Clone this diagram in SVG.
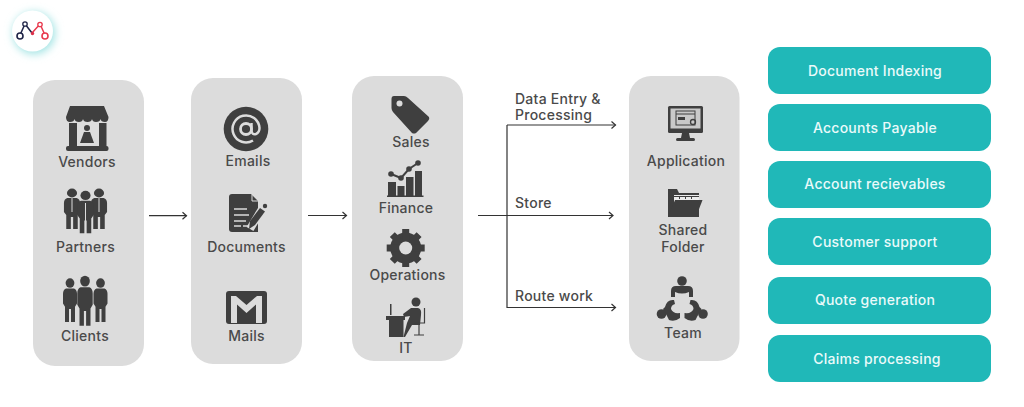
<svg xmlns="http://www.w3.org/2000/svg" width="1024" height="407" viewBox="0 0 1024 407">
<style>
text{font-family:"Inter","Liberation Sans",sans-serif;font-size:14px;font-weight:450;fill:#4a4a4a;text-anchor:middle;letter-spacing:.25px}
.l{text-anchor:start}
.w{fill:#eafafa}
.p{fill:#dcdcdc}
.t{fill:#20b8b8}
.i{fill:#3f3f3f}
.c{fill:#dcdcdc}
.s{fill:none;stroke:#3f3f3f}
.a{fill:none;stroke:#333;stroke-width:1.2}
</style>
<defs>
<marker id="h" markerWidth="8" markerHeight="10" refX="6" refY="5" orient="auto" markerUnits="userSpaceOnUse"><path d="M2 1.5L6 5L2 8.5" fill="none" stroke="#333" stroke-width="1.2"/></marker>
<filter id="g" x="-50%" y="-50%" width="200%" height="200%"><feGaussianBlur stdDeviation="4"/></filter>
<g id="man"><circle cx="0" cy="-12" r="4.4"/><path d="M-4 -7H4Q7 -6 7 -2V7L5 10V24H1V12H-1V24H-5V10L-7 7V-2Q-7 -6 -4 -7Z"/></g>
</defs>

<g id="logo">
<circle cx="34" cy="33" r="21" fill="#9fe3e3" filter="url(#g)"/>
<circle cx="32.500" cy="31" r="20.500" fill="#fff"/>
<path d="M20 35L25 24L32 33" fill="none" stroke="#1f2447" stroke-width="1.500"/>
<path d="M32 33L40 24L45 35" fill="none" stroke="#e8394d" stroke-width="1.500"/>
<circle cx="20" cy="36" r="3" fill="#fff" stroke="#1f2447" stroke-width="1.600"/>
<circle cx="25" cy="24" r="2.200" fill="#fff" stroke="#1f2447" stroke-width="1.300"/>
<circle cx="32.500" cy="33.500" r="1.700" fill="#d92f4a"/>
<circle cx="40" cy="24.500" r="2.200" fill="#fff" stroke="#e8394d" stroke-width="1.300"/>
<circle cx="45" cy="36" r="3" fill="#fff" stroke="#e8394d" stroke-width="1.600"/>
</g>

<g id="stakeholders">
<rect class="p" x="33" y="80" width="111" height="286" rx="22"/>
<g id="vendors">
<path class="i" d="M70 106H104L108.500 117Q108.500 122 105 122Q101 122 100.500 119Q100 122 96 122Q92.500 122 92 119Q91.500 122 87.500 122Q83.500 122 83 119Q82.500 122 79 122Q75 122 74.500 119Q74 122 70 122Q66 122 66 117Z"/>
<rect class="i" x="69" y="123" width="8" height="23"/><rect class="i" x="99" y="123" width="7.500" height="23"/>
<rect class="i" x="66" y="146" width="42.500" height="5" rx="2"/>
<circle class="i" cx="87" cy="128" r="3"/><path class="i" d="M84 132H90L94 143H80Z"/>
<text x="87" y="167">Vendors</text></g>
<g id="partners">
<g class="i"><use href="#man" transform="translate(72 205) scale(1.150 1)"/><use href="#man" transform="translate(99 205) scale(1.150 1)"/></g>
<use class="i" href="#man" transform="translate(85.500 208) scale(1.150 1.050)"/>
<path d="M85.500 203V222M72 198L72 212M99 198V212" stroke="#dcdcdc" stroke-width="1" fill="none"/>
<text x="85.500" y="252">Partners</text></g>
<g id="clients">
<use class="i" href="#man" transform="translate(70 296) scale(1,1.080)"/>
<use class="i" href="#man" transform="translate(100.500 296) scale(1,1.080)"/>
<use class="i" href="#man" transform="translate(85 296) scale(1.100,1.240)"/>
<text x="85" y="341">Clients</text></g>
</g>

<g id="channels">
<rect class="p" x="191" y="78" width="111" height="286" rx="22"/>
<g id="emails">
<circle class="i" cx="246" cy="129" r="22.300"/>
<circle cx="246" cy="129" r="5.500" fill="none" stroke="#dcdcdc" stroke-width="2.800"/>
<path d="M251.500 123V131Q252 135 256 134Q259.500 132.500 259.500 128A13.500 13.500 0 1 0 253 140.500" fill="none" stroke="#dcdcdc" stroke-width="2.500"/>
<text x="248" y="166">Emails</text></g>
<g id="documents">
<path class="i" d="M232 194H251L258 201V232H232Q229 232 229 229V197Q229 194 232 194Z"/>
<path d="M252 194.500V201H258" fill="none" stroke="#dcdcdc" stroke-width="1"/>
<path d="M234 209H247M234 215H249M234 221H246M234 226H241M243 226H251" stroke="#dcdcdc" stroke-width="1.500"/>
<path d="M250 229L262 209" stroke="#dcdcdc" stroke-width="8"/>
<path class="i" d="M249 229L250 221L260 208L265 211.500L255 225Z"/>
<circle class="i" cx="265" cy="206" r="2.200"/>
<text x="246.500" y="252">Documents</text></g>
<g id="mails">
<rect class="i" x="226" y="291" width="41" height="33" rx="3"/>
<path d="M231 323V296H236L246.500 305L257 296H262V323H256V304.500L246.500 313L237 304.500V323Z" fill="#dcdcdc"/>
<text x="246.500" y="341">Mails</text></g>
</g>

<g id="departments">
<rect class="p" x="352" y="76" width="111" height="285" rx="22"/>
<g id="sales">
<path class="i" d="M394 96H404Q406 96 408 98L429 117Q430 119 428 121L416 133Q414 134 412 133L393 112Q391.500 110 391.500 108V99Q391.500 96 394 96Z"/>
<circle class="c" cx="399.500" cy="103.500" r="3"/>
<text x="411" y="147">Sales</text></g>
<g id="finance">
<rect class="i" x="388" y="182" width="8" height="14"/><rect class="i" x="397.500" y="186" width="7" height="10"/><rect class="i" x="406" y="177" width="7.500" height="19"/><rect class="i" x="415" y="171" width="7" height="25"/>
<rect class="i" x="387" y="195.500" width="36.500" height="1.500"/>
<path class="s" stroke-width="2" d="M391 174L401 178L409 169L418 163"/>
<circle class="i" cx="391" cy="174" r="2.800"/><circle class="i" cx="401" cy="178" r="2.800"/><circle class="i" cx="409" cy="169" r="2.800"/><circle class="i" cx="418" cy="163" r="2.800"/>
<text x="406" y="213">Finance</text></g>
<g id="operations">
<circle cx="405.700" cy="248" r="11" fill="none" stroke="#3f3f3f" stroke-width="9"/>
<path d="M405.700 229V267M386.700 248H424.700M392.300 234.600L419.100 261.400M419.100 234.600L392.300 261.400" stroke="#3f3f3f" stroke-width="7"/>
<circle class="c" cx="405.700" cy="248" r="6.500"/>
<text x="407.500" y="280">Operations</text></g>
<g id="it">
<path class="i" d="M386 316H405V320H403.500V337H389V320H386Z"/>
<rect class="i" x="390" y="304" width="1.500" height="11"/>
<circle class="i" cx="416" cy="302" r="4.500"/>
<path class="i" d="M403 314L411 308H418Q422 309 421 315L420 325H412L405 337H403.500L407 323L410 316L404 317Z"/>
<path class="s" stroke-width="1.200" d="M424.500 308V323H414M419 323V335M414 335H424"/>
<text x="406" y="353">IT</text></g>
</g>

<g id="destinations">
<rect class="p" x="629" y="76" width="110.500" height="285" rx="22"/>
<g id="application">
<rect class="i" x="668" y="106" width="35" height="27" rx="1.500"/>
<rect x="670.500" y="108.500" width="30" height="20" fill="#c9c9c9"/>
<rect x="676" y="111" width="19" height="14" fill="none" stroke="#3f3f3f"/>
<path d="M676 114H695" stroke="#3f3f3f"/>
<rect class="i" x="678" y="117" width="7" height="3"/>
<circle cx="693" cy="122" r="2.500" fill="none" stroke="#3f3f3f" stroke-width="1.300"/>
<path class="i" d="M682 133H689L690 138H681Z"/>
<rect class="i" x="676" y="138" width="19" height="3" rx="1.500"/>
<text x="686" y="166">Application</text></g>
<g id="shared-folder">
<path class="i" d="M668 189H677L679 193H699V217H668Z"/>
<path d="M674 195H699V203H674Z" fill="#ececec"/>
<path class="i" d="M674 196H699V197H674ZM679 197H680V199H679ZM685 197H686V199H685ZM691 197H692V199H691Z"/>
<path class="i" d="M675 200H702.500L696 217H668Z"/>
<text x="683" y="235">Shared</text>
<text x="683" y="251.500">Folder</text></g>
<g id="team">
<circle class="i" cx="682" cy="281" r="4.800"/>
<path class="i" d="M671 297V291Q671 286 676 286H688Q693 286 693 291V297H689V292Q682 295 675 292V297Z"/>
<circle class="i" cx="661.500" cy="314" r="4.800"/><circle class="i" cx="703" cy="314" r="4.800"/>
<path class="i" d="M665 307Q667 299 674 300L675 304Q671 305 671 309Q673 314 680 313L680 318Q675 322 669 320L667 316L663 309Z"/>
<path class="i" d="M699.500 307Q697.500 299 690.500 300L689.500 304Q693.500 305 693.500 309Q691.500 314 684.500 313L684.500 318Q689.500 322 695.500 320L697.500 316L701.500 309Z"/>
<text x="683" y="338">Team</text></g>
</g>

<g id="functions">
<g id="document-indexing"><rect class="t" x="768" y="47" width="223" height="47" rx="12"/><text class="w" x="875" y="76">Document Indexing</text></g>
<g id="accounts-payable"><rect class="t" x="768" y="104" width="223" height="47" rx="12"/><text class="w" x="875" y="132.500">Accounts Payable</text></g>
<g id="account-recievables"><rect class="t" x="768" y="161" width="223" height="47" rx="12"/><text class="w" x="875" y="189">Account recievables</text></g>
<g id="customer-support"><rect class="t" x="768" y="218" width="223" height="47" rx="12"/><text class="w" x="875" y="246.500">Customer support</text></g>
<g id="quote-generation"><rect class="t" x="768" y="277" width="223" height="47" rx="12"/><text class="w" x="875" y="305">Quote generation</text></g>
<g id="claims-processing"><rect class="t" x="768" y="335" width="223" height="47" rx="12"/><text class="w" x="877" y="364">Claims processing</text></g>
</g>

<g id="connectors">
<path class="a" marker-end="url(#h)" d="M149 215.700H186.500"/>
<path class="a" marker-end="url(#h)" d="M308 215.500H346.500"/>
<path class="a" marker-end="url(#h)" d="M478 215.500H613"/>
<path class="a" marker-end="url(#h)" d="M507 125H615.500"/>
<path class="a" marker-end="url(#h)" d="M507 125V307.500H615.500"/>
</g>
<g id="connector-labels">
<text class="l" x="515" y="104">Data Entry &amp;</text>
<text class="l" x="515" y="120">Processing</text>
<text class="l" x="515" y="208">Store</text>
<text class="l" x="515" y="301">Route work</text>
</g>
</svg>
